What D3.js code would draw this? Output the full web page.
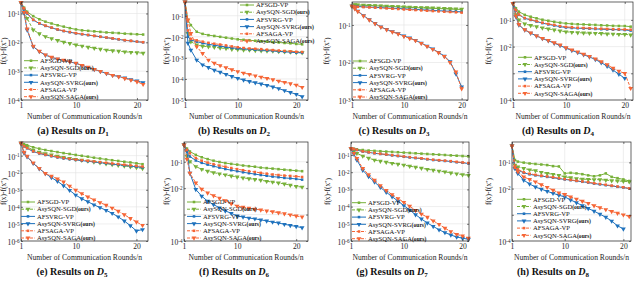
<!DOCTYPE html>
<html>
<head>
<meta charset="utf-8">
<script src="https://cdn.jsdelivr.net/npm/d3@7"></script>
<style>
body { margin: 0; background: #fff; }
svg { display: block; font-family: "Liberation Serif", "Times New Roman", serif; }
</style>
</head>
<body>
<svg id="fig" width="640" height="282"></svg>
<script>
// communication rounds / n (x values shared by every panel)
var rounds = [1, 1.5, 2, 3, 4, 5, 6, 7, 8, 9, 10, 11, 12, 13, 14, 15, 16, 17, 18, 19, 20, 21];

var methods = ["AFSGD-VP", "AsySQN-SGD", "AFSVRG-VP", "AsySQN-SVRG", "AFSAGA-VP", "AsySQN-SAGA"];
var ours = [false, true, false, true, false, true];
var colors = ["#77b139", "#77b139", "#1f72bd", "#1f72bd", "#f66636", "#f66636"];
var dashed = [false, true, false, false, true, true];
var xTicks = [1, 10, 20];

// f(x)-f(x*) per dataset, one array per method (order = methods)
var d1 = [
  [0.24, 0.16, 0.115, 8.1e-2, 6.3e-2, 5.2e-2, 4.5e-2, 3.9e-2, 3.5e-2, 3.1e-2, 2.8e-2, 2.6e-2, 2.5e-2, 2.4e-2, 2.3e-2, 2.2e-2, 2.14e-2, 2.09e-2, 2.0e-2, 1.95e-2, 1.9e-2, 1.86e-2],
  [0.24, 0.112, 6.8e-2, 2.7e-2, 2.0e-2, 1.58e-2, 1.35e-2, 1.17e-2, 1.02e-2, 9.1e-3, 8.1e-3, 7.4e-3, 6.8e-3, 6.3e-3, 5.8e-3, 5.4e-3, 5.1e-3, 4.9e-3, 4.7e-3, 4.5e-3, 4.4e-3, 4.2e-3],
  [0.24, 0.14, 0.1, 5.9e-2, 4.5e-2, 3.7e-2, 3.2e-2, 2.75e-2, 2.45e-2, 2.24e-2, 2.04e-2, 1.9e-2, 1.78e-2, 1.66e-2, 1.55e-2, 1.45e-2, 1.35e-2, 1.26e-2, 1.17e-2, 1.12e-2, 1.05e-2, 1.0e-2],
  [0.24, 0.102, 2.7e-2, 7.1e-3, 4.8e-3, 3.6e-3, 3.0e-3, 2.6e-3, 2.35e-3, 2.1e-3, 1.86e-3, 1.58e-3, 1.35e-3, 1.15e-3, 9.8e-4, 8.3e-4, 7.2e-4, 6.5e-4, 5.8e-4, 5.1e-4, 4.6e-4, 4.0e-4],
  [0.24, 0.15, 0.105, 6.1e-2, 4.6e-2, 3.8e-2, 3.25e-2, 2.8e-2, 2.5e-2, 2.28e-2, 2.08e-2, 1.93e-2, 1.8e-2, 1.68e-2, 1.57e-2, 1.47e-2, 1.37e-2, 1.28e-2, 1.19e-2, 1.13e-2, 1.06e-2, 1.01e-2],
  [0.24, 0.11, 2.9e-2, 7.4e-3, 4.9e-3, 3.7e-3, 3.05e-3, 2.65e-3, 2.4e-3, 2.12e-3, 1.88e-3, 1.6e-3, 1.37e-3, 1.16e-3, 9.9e-4, 8.4e-4, 7.2e-4, 6.4e-4, 5.6e-4, 4.9e-4, 4.3e-4, 3.5e-4]
];
var d2 = [
  [0.45, 6.3e-2, 3.6e-2, 1.74e-2, 1.38e-2, 1.2e-2, 1.1e-2, 1.0e-2, 9.1e-3, 8.3e-3, 7.6e-3, 7.2e-3, 6.9e-3, 6.5e-3, 6.2e-3, 5.9e-3, 5.6e-3, 5.4e-3, 5.1e-3, 4.9e-3, 4.6e-3, 4.4e-3],
  [0.45, 1.45e-2, 5.9e-3, 4.1e-3, 3.6e-3, 3.4e-3, 3.2e-3, 2.95e-3, 2.8e-3, 2.6e-3, 2.5e-3, 2.4e-3, 2.35e-3, 2.24e-3, 2.2e-3, 2.14e-3, 2.1e-3, 2.0e-3, 1.95e-3, 1.9e-3, 1.82e-3, 1.78e-3],
  [0.45, 1.0e-2, 7.1e-3, 5.9e-3, 5.0e-3, 4.4e-3, 4.0e-3, 3.6e-3, 3.3e-3, 3.0e-3, 2.8e-3, 2.7e-3, 2.55e-3, 2.45e-3, 2.35e-3, 2.24e-3, 2.14e-3, 2.04e-3, 1.95e-3, 1.86e-3, 1.78e-3, 1.74e-3],
  [0.45, 5.0e-3, 2.35e-3, 7.9e-4, 4.7e-4, 3.5e-4, 2.6e-4, 2.1e-4, 1.66e-4, 1.32e-4, 1.07e-4, 8.9e-5, 7.6e-5, 6.6e-5, 5.8e-5, 5.0e-5, 4.2e-5, 3.5e-5, 2.8e-5, 2.3e-5, 1.86e-5, 1.45e-5],
  [0.45, 2.0e-2, 7.9e-3, 6.8e-3, 5.9e-3, 5.2e-3, 4.7e-3, 4.3e-3, 3.9e-3, 3.5e-3, 3.2e-3, 2.95e-3, 2.8e-3, 2.7e-3, 2.6e-3, 2.45e-3, 2.35e-3, 2.24e-3, 2.14e-3, 2.04e-3, 1.95e-3, 1.9e-3],
  [0.45, 6.3e-2, 1.45e-2, 3.4e-3, 1.62e-3, 7.9e-4, 5.6e-4, 4.3e-4, 3.4e-4, 2.75e-4, 2.24e-4, 1.9e-4, 1.66e-4, 1.41e-4, 1.23e-4, 1.07e-4, 9.3e-5, 7.9e-5, 6.9e-5, 6.0e-5, 5.1e-5, 4.0e-5]
];
var d3v = [
  [0.32, 0.345, 0.34, 0.335, 0.33, 0.325, 0.32, 0.315, 0.31, 0.305, 0.3, 0.295, 0.29, 0.286, 0.282, 0.278, 0.274, 0.27, 0.266, 0.263, 0.26],
  [0.32, 0.35, 0.345, 0.34, 0.335, 0.33, 0.325, 0.32, 0.315, 0.31, 0.305, 0.3, 0.296, 0.292, 0.288, 0.284, 0.28, 0.276, 0.272, 0.268, 0.264],
  [0.32, 0.315, 0.31, 0.305, 0.3, 0.295, 0.29, 0.285, 0.28, 0.275, 0.27, 0.265, 0.26, 0.255, 0.25, 0.245, 0.24, 0.236, 0.232, 0.228, 0.224],
  [0.32, 0.275, 0.234, 0.178, 0.138, 0.11, 8.9e-2, 7.6e-2, 6.6e-2, 5.9e-2, 5.1e-2, 4.5e-2, 3.9e-2, 3.3e-2, 2.75e-2, 2.3e-2, 1.86e-2, 1.48e-2, 1.05e-2, 5.0e-3, 2.24e-3],
  [0.32, 0.31, 0.305, 0.3, 0.295, 0.29, 0.284, 0.278, 0.272, 0.266, 0.26, 0.255, 0.25, 0.245, 0.24, 0.235, 0.23, 0.226, 0.222, 0.218, 0.214],
  [0.32, 0.27, 0.23, 0.175, 0.136, 0.108, 8.8e-2, 7.5e-2, 6.5e-2, 5.8e-2, 5.0e-2, 4.4e-2, 3.85e-2, 3.25e-2, 2.7e-2, 2.25e-2, 1.82e-2, 1.45e-2, 1.0e-2, 5.6e-3, 2.0e-3]
];
var d4 = [
  [0.42, 0.275, 0.204, 0.155, 0.132, 0.115, 0.102, 9.3e-2, 8.5e-2, 7.9e-2, 7.4e-2, 7.1e-2, 6.9e-2, 6.8e-2, 6.6e-2, 6.5e-2, 6.3e-2, 6.2e-2, 6.0e-2, 5.95e-2, 5.9e-2, 5.6e-2],
  [0.42, 0.158, 0.1, 7.1e-2, 6.2e-2, 5.6e-2, 5.0e-2, 4.6e-2, 4.2e-2, 3.9e-2, 3.6e-2, 3.45e-2, 3.35e-2, 3.25e-2, 3.2e-2, 3.15e-2, 3.1e-2, 3.0e-2, 2.95e-2, 2.9e-2, 2.88e-2, 2.75e-2],
  [0.42, 0.224, 0.155, 0.115, 0.1, 8.7e-2, 7.6e-2, 6.8e-2, 6.2e-2, 5.6e-2, 5.2e-2, 5.0e-2, 4.9e-2, 4.8e-2, 4.7e-2, 4.6e-2, 4.5e-2, 4.4e-2, 4.35e-2, 4.3e-2, 4.2e-2, 4.0e-2],
  [0.42, 0.132, 6.5e-2, 4.2e-2, 3.2e-2, 2.5e-2, 2.0e-2, 1.66e-2, 1.35e-2, 1.1e-2, 8.7e-3, 7.2e-3, 6.0e-3, 5.0e-3, 4.1e-3, 3.3e-3, 2.5e-3, 1.86e-3, 1.32e-3, 9.3e-4, 6.5e-4],
  [0.42, 0.23, 0.16, 0.118, 0.103, 9.0e-2, 7.9e-2, 7.1e-2, 6.5e-2, 5.9e-2, 5.5e-2, 5.3e-2, 5.1e-2, 5.0e-2, 4.9e-2, 4.8e-2, 4.7e-2, 4.6e-2, 4.5e-2, 4.45e-2, 4.4e-2, 4.3e-2],
  [0.42, 0.14, 6.8e-2, 4.3e-2, 3.3e-2, 2.55e-2, 2.05e-2, 1.7e-2, 1.4e-2, 1.15e-2, 9.1e-3, 7.6e-3, 6.3e-3, 5.2e-3, 4.3e-3, 3.5e-3, 2.75e-3, 2.1e-3, 1.55e-3, 1.2e-3, 1.0e-3, 2.75e-4]
];
var d5 = [
  [0.54, 0.47, 0.41, 0.31, 0.257, 0.214, 0.186, 0.162, 0.141, 0.126, 0.11, 9.8e-2, 8.7e-2, 7.6e-2, 6.8e-2, 6.0e-2, 5.4e-2, 4.9e-2, 4.4e-2, 4.0e-2, 3.55e-2, 3.16e-2],
  [0.54, 0.4, 0.33, 0.21, 0.16, 0.13, 0.11, 9.3e-2, 8.0e-2, 7.0e-2, 6.1e-2, 5.4e-2, 4.8e-2, 4.3e-2, 3.8e-2, 3.4e-2, 3.05e-2, 2.75e-2, 2.5e-2, 2.25e-2, 2.0e-2, 1.8e-2],
  [0.54, 0.355, 0.27, 0.174, 0.135, 0.11, 9.3e-2, 7.9e-2, 6.9e-2, 6.2e-2, 5.6e-2, 5.1e-2, 4.7e-2, 4.3e-2, 3.9e-2, 3.55e-2, 3.2e-2, 2.95e-2, 2.7e-2, 2.45e-2, 2.24e-2, 2.04e-2],
  [0.54, 0.141, 8.7e-2, 3.55e-2, 1.74e-2, 9.1e-3, 5.2e-3, 3.16e-3, 1.74e-3, 9.3e-4, 4.9e-4, 3.0e-4, 2.0e-4, 1.32e-4, 9.1e-5, 6.3e-5, 4.2e-5, 2.6e-5, 1.5e-5, 7.9e-6, 3.9e-6, 4.7e-6],
  [0.54, 0.36, 0.28, 0.18, 0.14, 0.115, 9.7e-2, 8.3e-2, 7.3e-2, 6.5e-2, 5.9e-2, 5.4e-2, 5.0e-2, 4.6e-2, 4.2e-2, 3.85e-2, 3.5e-2, 3.2e-2, 2.95e-2, 2.7e-2, 2.5e-2, 2.3e-2],
  [0.54, 0.158, 9.3e-2, 3.8e-2, 1.82e-2, 9.1e-3, 6.3e-3, 4.4e-3, 2.9e-3, 1.66e-3, 9.5e-4, 6.0e-4, 3.8e-4, 2.6e-4, 1.78e-4, 1.26e-4, 8.5e-5, 5.6e-5, 3.5e-5, 2.1e-5, 1.32e-5, 8.3e-6]
];
var d6 = [
  [0.44, 0.316, 0.245, 0.182, 0.148, 0.126, 0.11, 9.8e-2, 8.9e-2, 8.3e-2, 7.8e-2, 7.2e-2, 6.8e-2, 6.5e-2, 6.0e-2, 5.75e-2, 5.5e-2, 5.25e-2, 5.0e-2, 4.8e-2, 4.6e-2, 4.4e-2],
  [0.44, 0.16, 0.102, 6.6e-2, 5.2e-2, 4.4e-2, 3.9e-2, 3.5e-2, 3.2e-2, 2.9e-2, 2.65e-2, 2.45e-2, 2.3e-2, 2.15e-2, 2.0e-2, 1.82e-2, 1.7e-2, 1.58e-2, 1.45e-2, 1.3e-2, 1.17e-2, 1.1e-2],
  [0.44, 0.25, 0.158, 0.112, 9.1e-2, 7.8e-2, 6.8e-2, 6.0e-2, 5.3e-2, 4.8e-2, 4.4e-2, 4.0e-2, 3.7e-2, 3.4e-2, 3.15e-2, 2.95e-2, 2.75e-2, 2.6e-2, 2.45e-2, 2.35e-2, 2.24e-2, 2.1e-2],
  [0.44, 0.25, 3.7e-2, 8.9e-3, 5.0e-3, 3.2e-3, 2.4e-3, 1.8e-3, 1.38e-3, 1.12e-3, 8.9e-4, 8.1e-4, 7.4e-4, 6.9e-4, 6.3e-4, 5.75e-4, 5.2e-4, 4.8e-4, 4.3e-4, 3.9e-4, 3.55e-4, 3.2e-4],
  [0.44, 0.28, 0.21, 0.138, 0.11, 9.3e-2, 8.1e-2, 7.2e-2, 6.5e-2, 5.8e-2, 5.25e-2, 4.8e-2, 4.4e-2, 4.1e-2, 3.8e-2, 3.55e-2, 3.3e-2, 3.15e-2, 3.0e-2, 2.9e-2, 2.8e-2, 2.65e-2],
  [0.44, 0.126, 3.7e-2, 1.58e-2, 9.1e-3, 6.6e-3, 5.2e-3, 4.2e-3, 3.4e-3, 2.6e-3, 2.1e-3, 1.9e-3, 1.74e-3, 1.6e-3, 1.5e-3, 1.38e-3, 1.28e-3, 1.18e-3, 1.08e-3, 9.8e-4, 8.9e-4, 8.1e-4]
];
var d7 = [
  [0.245, 0.229, 0.214, 0.195, 0.182, 0.174, 0.166, 0.158, 0.151, 0.145, 0.138, 0.132, 0.126, 0.12, 0.115, 0.11, 0.105, 0.1, 9.5e-2, 9.1e-2, 8.7e-2, 8.3e-2],
  [0.245, 0.174, 0.126, 8.7e-2, 6.6e-2, 5.1e-2, 4.4e-2, 3.8e-2, 3.3e-2, 2.95e-2, 2.6e-2, 2.24e-2, 1.95e-2, 1.7e-2, 1.48e-2, 1.32e-2, 1.17e-2, 1.05e-2, 9.1e-3, 8.1e-3, 7.2e-3, 6.6e-3],
  [0.245, 0.219, 0.195, 0.158, 0.141, 0.126, 0.115, 0.105, 9.5e-2, 8.7e-2, 7.9e-2, 7.2e-2, 6.6e-2, 6.2e-2, 5.6e-2, 5.1e-2, 4.8e-2, 4.5e-2, 4.2e-2, 3.8e-2, 3.55e-2, 3.2e-2],
  [0.245, 0.112, 5.1e-2, 1.32e-2, 5.6e-3, 2.7e-3, 1.32e-3, 6.9e-4, 3.8e-4, 2.1e-4, 1.15e-4, 6.3e-5, 3.4e-5, 1.9e-5, 1.12e-5, 7.1e-6, 4.5e-6, 3.1e-6, 2.24e-6, 1.7e-6, 1.45e-6, 1.26e-6],
  [0.245, 0.222, 0.2, 0.162, 0.145, 0.13, 0.118, 0.108, 9.8e-2, 9.0e-2, 8.2e-2, 7.5e-2, 6.9e-2, 6.4e-2, 5.8e-2, 5.3e-2, 5.0e-2, 4.7e-2, 4.4e-2, 4.0e-2, 3.7e-2, 3.4e-2],
  [0.245, 0.126, 6.3e-2, 1.66e-2, 7.1e-3, 3.4e-3, 1.66e-3, 8.7e-4, 5.0e-4, 2.95e-4, 1.78e-4, 1.05e-4, 6.0e-5, 3.7e-5, 2.4e-5, 1.5e-5, 9.3e-6, 5.6e-6, 3.55e-6, 2.45e-6, 1.95e-6, 1.45e-6]
];
var d8 = [
  [0.43, 0.123, 0.107, 9.8e-2, 9.1e-2, 8.7e-2, 8.3e-2, 7.9e-2, 7.2e-2, 7.0e-2, 3.8e-2, 4.0e-2, 3.8e-2, 3.55e-2, 3.2e-2, 2.95e-2, 3.2e-2, 3.8e-2, 2.8e-2, 2.5e-2, 2.24e-2, 1.95e-2],
  [0.43, 7.9e-2, 6.8e-2, 5.9e-2, 5.2e-2, 4.8e-2, 4.2e-2, 3.8e-2, 3.5e-2, 3.2e-2, 2.8e-2, 2.6e-2, 2.4e-2, 2.3e-2, 2.24e-2, 2.2e-2, 2.2e-2, 2.1e-2, 2.0e-2, 1.95e-2, 1.9e-2, 1.82e-2],
  [0.43, 5.9e-2, 5.1e-2, 4.0e-2, 3.5e-2, 3.2e-2, 3.0e-2, 2.8e-2, 2.6e-2, 2.4e-2, 2.24e-2, 2.1e-2, 1.95e-2, 1.82e-2, 1.7e-2, 1.55e-2, 1.45e-2, 1.35e-2, 1.26e-2, 1.17e-2, 1.1e-2, 1.0e-2],
  [0.43, 5.9e-2, 3.8e-2, 2.1e-2, 1.5e-2, 1.15e-2, 9.5e-3, 7.9e-3, 6.6e-3, 5.6e-3, 4.8e-3, 3.7e-3, 2.9e-3, 2.24e-3, 1.74e-3, 1.38e-3, 1.05e-3, 8.1e-4, 5.75e-4, 3.8e-4, 2.9e-4],
  [0.43, 6.2e-2, 5.4e-2, 4.2e-2, 3.7e-2, 3.35e-2, 3.1e-2, 2.9e-2, 2.7e-2, 2.5e-2, 2.3e-2, 2.15e-2, 2.0e-2, 1.87e-2, 1.75e-2, 1.6e-2, 1.5e-2, 1.4e-2, 1.3e-2, 1.2e-2, 1.12e-2, 1.02e-2],
  [0.43, 6.8e-2, 4.4e-2, 2.8e-2, 2.24e-2, 1.82e-2, 1.41e-2, 1.12e-2, 8.7e-3, 6.9e-3, 6.0e-3, 4.8e-3, 4.0e-3, 3.3e-3, 2.75e-3, 2.24e-3, 1.86e-3, 1.58e-3, 1.35e-3, 1.15e-3, 1.0e-3, 8.7e-4]
];
var allData = [d1, d2, d3v, d4, d5, d6, d7, d8];

// y tick values and which of them carry a label
var yTicks = [
  [1e-1, 1e-2, 1e-3, 1e-4],
  [1e-1, 1e-2, 1e-3, 1e-4, 1e-5],
  [1e-1, 1e-2, 1e-3],
  [1e-1, 1e-2, 1e-3, 1e-4],
  [1e-1, 1e-2, 1e-3, 1e-4, 1e-5, 1e-6],
  [1e-1, 1e-2, 1e-3, 1e-4],
  [1e-1, 1e-2, 1e-3, 1e-4, 1e-5, 1e-6],
  [1e-1, 1e-2, 1e-3, 1e-4]
];
var yLabelled = [
  [1e-1, 1e-2, 1e-3, 1e-4],
  [1e-1, 1e-2, 1e-3, 1e-4, 1e-5],
  [1e-1, 1e-2, 1e-3],
  [1e-1, 1e-2, 1e-4],
  [1e-1, 1e-2, 1e-3, 1e-4, 1e-5, 1e-6],
  [1e-1, 1e-2, 1e-4],
  [1e-1, 1e-2, 1e-3, 1e-4, 1e-5, 1e-6],
  [1e-1, 1e-2, 1e-4]
];
var captions = ["a", "b", "c", "d", "e", "f", "g", "h"];

// layout of each panel
var rowTop = [2, 142], rowBot = [100, 241], capY = [133.5, 274.5];
var panels = [
  {row: 0, x0: 21,  x1: 148, xMax: 21.8, yDom: [1e-4, 0.25], lg: [24, 60.7],  cap: 73,  yt: 6},
  {row: 0, x0: 185, x1: 308, xMax: 22,   yDom: [1e-5, 0.45], lg: [240, 5],    cap: 234, yt: 169},
  {row: 0, x0: 352, x1: 468, xMax: 21.1, yDom: [1e-3, 0.41], lg: [353, 61],   cap: 394, yt: 329},
  {row: 0, x0: 513, x1: 633, xMax: 21.4, yDom: [1e-4, 0.47], lg: [518, 57.3], cap: 558, yt: 491},
  {row: 1, x0: 21,  x1: 148, xMax: 21.9, yDom: [1e-6, 0.63], lg: [21, 202],   cap: 72,  yt: 6},
  {row: 1, x0: 184, x1: 308, xMax: 22,   yDom: [1e-4, 0.56], lg: [187, 202],  cap: 234, yt: 169},
  {row: 1, x0: 351, x1: 469, xMax: 21.1, yDom: [1e-6, 0.57], lg: [352, 202.7], cap: 392, yt: 330},
  {row: 1, x0: 512, x1: 631, xMax: 21.3, yDom: [1e-4, 0.6],  lg: [517, 199.3], cap: 553, yt: 491}
];

var svg = d3.select("#fig");
var square = d3.symbol().type(d3.symbolSquare).size(6.5)();
var triangle = d3.symbol().type(d3.symbolTriangle).size(10)();

panels.forEach(function(p, i) {
  var top = rowTop[p.row], bot = rowBot[p.row];
  var x = d3.scaleLinear().domain([1, p.xMax]).range([p.x0, p.x1]);
  var y = d3.scaleLog().domain(p.yDom).range([bot, top]);
  var g = svg.append("g");

  // grid
  g.append("g").selectAll("line").data(xTicks).enter().append("line")
    .attr("x1", d => x(d)).attr("x2", d => x(d)).attr("y1", top).attr("y2", bot)
    .attr("stroke", "#e2e2e2").attr("stroke-width", 0.6);
  g.append("g").selectAll("line").data(yTicks[i]).enter().append("line")
    .attr("x1", p.x0).attr("x2", p.x1).attr("y1", d => y(d)).attr("y2", d => y(d))
    .attr("stroke", "#e2e2e2").attr("stroke-width", 0.6);

  // series
  var line = d3.line().x(d => x(d[0])).y(d => y(d[1]));
  allData[i].forEach(function(vals, k) {
    var pts = vals.map((v, j) => [rounds[j], v]);
    g.append("path").attr("d", line(pts)).attr("fill", "none")
      .attr("stroke", colors[k]).attr("stroke-width", 1)
      .attr("stroke-dasharray", dashed[k] ? "3,1.5" : null);
    g.append("g").selectAll("path").data(pts).enter().append("path")
      .attr("d", k % 2 ? triangle : square)
      .attr("transform", d => "translate(" + x(d[0]) + "," + y(d[1]) + ")" + (k % 2 ? " rotate(180)" : ""))
      .attr("fill", colors[k]);
  });

  // axes
  var xAxis = d3.axisBottom(x).tickValues(xTicks).tickFormat(d3.format("d"))
    .tickSizeInner(-2).tickSizeOuter(0).tickPadding(2.5);
  var gx = g.append("g").attr("transform", "translate(0," + bot + ")").call(xAxis);
  var gxt = g.append("g").attr("transform", "translate(0," + top + ")")
    .call(d3.axisTop(x).tickValues(xTicks).tickFormat("").tickSizeInner(-2).tickSizeOuter(0));
  var yAxis = d3.axisLeft(y).tickValues(yTicks[i]).tickSizeInner(-2).tickSizeOuter(0).tickPadding(1.5)
    .tickFormat(d => yLabelled[i].indexOf(d) >= 0 ? "10" : "");
  var gy = g.append("g").attr("transform", "translate(" + p.x0 + ",0)").call(yAxis);
  var gyr = g.append("g").attr("transform", "translate(" + p.x1 + ",0)")
    .call(d3.axisRight(y).tickValues(yTicks[i]).tickFormat("").tickSizeInner(-2).tickSizeOuter(0));
  [gx, gxt, gy, gyr].forEach(function(a) {
    a.select(".domain").remove();
    a.selectAll("line").attr("stroke", "#262626").attr("stroke-width", 0.6);
    a.attr("font-family", null).attr("font-size", 7.6);
    a.selectAll("text").attr("fill", "#262626");
  });
  gx.selectAll("text").attr("dy", "0.75em");
  gy.selectAll("text").each(function(d) {
    if (yLabelled[i].indexOf(d) < 0) return;
    d3.select(this).append("tspan").attr("dy", "-0.42em").attr("font-size", 5.2)
      .text("-" + Math.round(-Math.log10(d)));
  });
  gy.selectAll("text").attr("dy", "0.45em");

  // frame
  g.append("rect").attr("x", p.x0).attr("y", top).attr("width", p.x1 - p.x0).attr("height", bot - top)
    .attr("fill", "none").attr("stroke", "#262626").attr("stroke-width", 0.7);

  // axis titles
  g.append("text").attr("x", (p.x0 + p.x1) / 2).attr("y", bot + 19).attr("text-anchor", "middle")
    .attr("font-size", 7.6).attr("fill", "#262626").text("Number of Communication Rounds/n");
  var yt = g.append("text").attr("transform", "translate(" + p.yt + "," + (top + bot) / 2 + ") rotate(-90)")
    .attr("text-anchor", "middle").attr("font-size", 7.4).attr("fill", "#262626");
  yt.append("tspan").text("f(x)-f(x");
  yt.append("tspan").attr("dy", "-0.4em").attr("font-size", 5).text("*");
  yt.append("tspan").attr("dy", "0.4em").text(")");

  // legend
  var lg = g.append("g");
  methods.forEach(function(m, k) {
    var ly = p.lg[1] + k * 7.2, lx = p.lg[0];
    lg.append("line").attr("x1", lx).attr("x2", lx + 14).attr("y1", ly).attr("y2", ly)
      .attr("stroke", colors[k]).attr("stroke-width", 1)
      .attr("stroke-dasharray", dashed[k] ? "3,1.5" : null);
    lg.append("path").attr("d", k % 2 ? triangle : square)
      .attr("transform", "translate(" + (lx + 7) + "," + ly + ")" + (k % 2 ? " rotate(180)" : ""))
      .attr("fill", colors[k]);
    var t = lg.append("text").attr("x", lx + 16).attr("y", ly).attr("dy", "0.34em")
      .attr("font-size", 6.6).attr("fill", "#111").text(m);
    if (ours[k]) t.append("tspan").attr("font-weight", "bold").attr("font-size", 5.6).text("(ours)");
  });

  // caption
  var c = svg.append("text").attr("x", p.cap).attr("y", capY[p.row]).attr("text-anchor", "middle")
    .attr("font-size", 10).attr("font-weight", "bold").attr("fill", "#111");
  c.append("tspan").text("(" + captions[i] + ") Results on ");
  c.append("tspan").attr("font-style", "italic").text("D");
  c.append("tspan").attr("dy", "0.3em").attr("font-size", 7).text(String(i + 1));
});
</script>
</body>
</html>
